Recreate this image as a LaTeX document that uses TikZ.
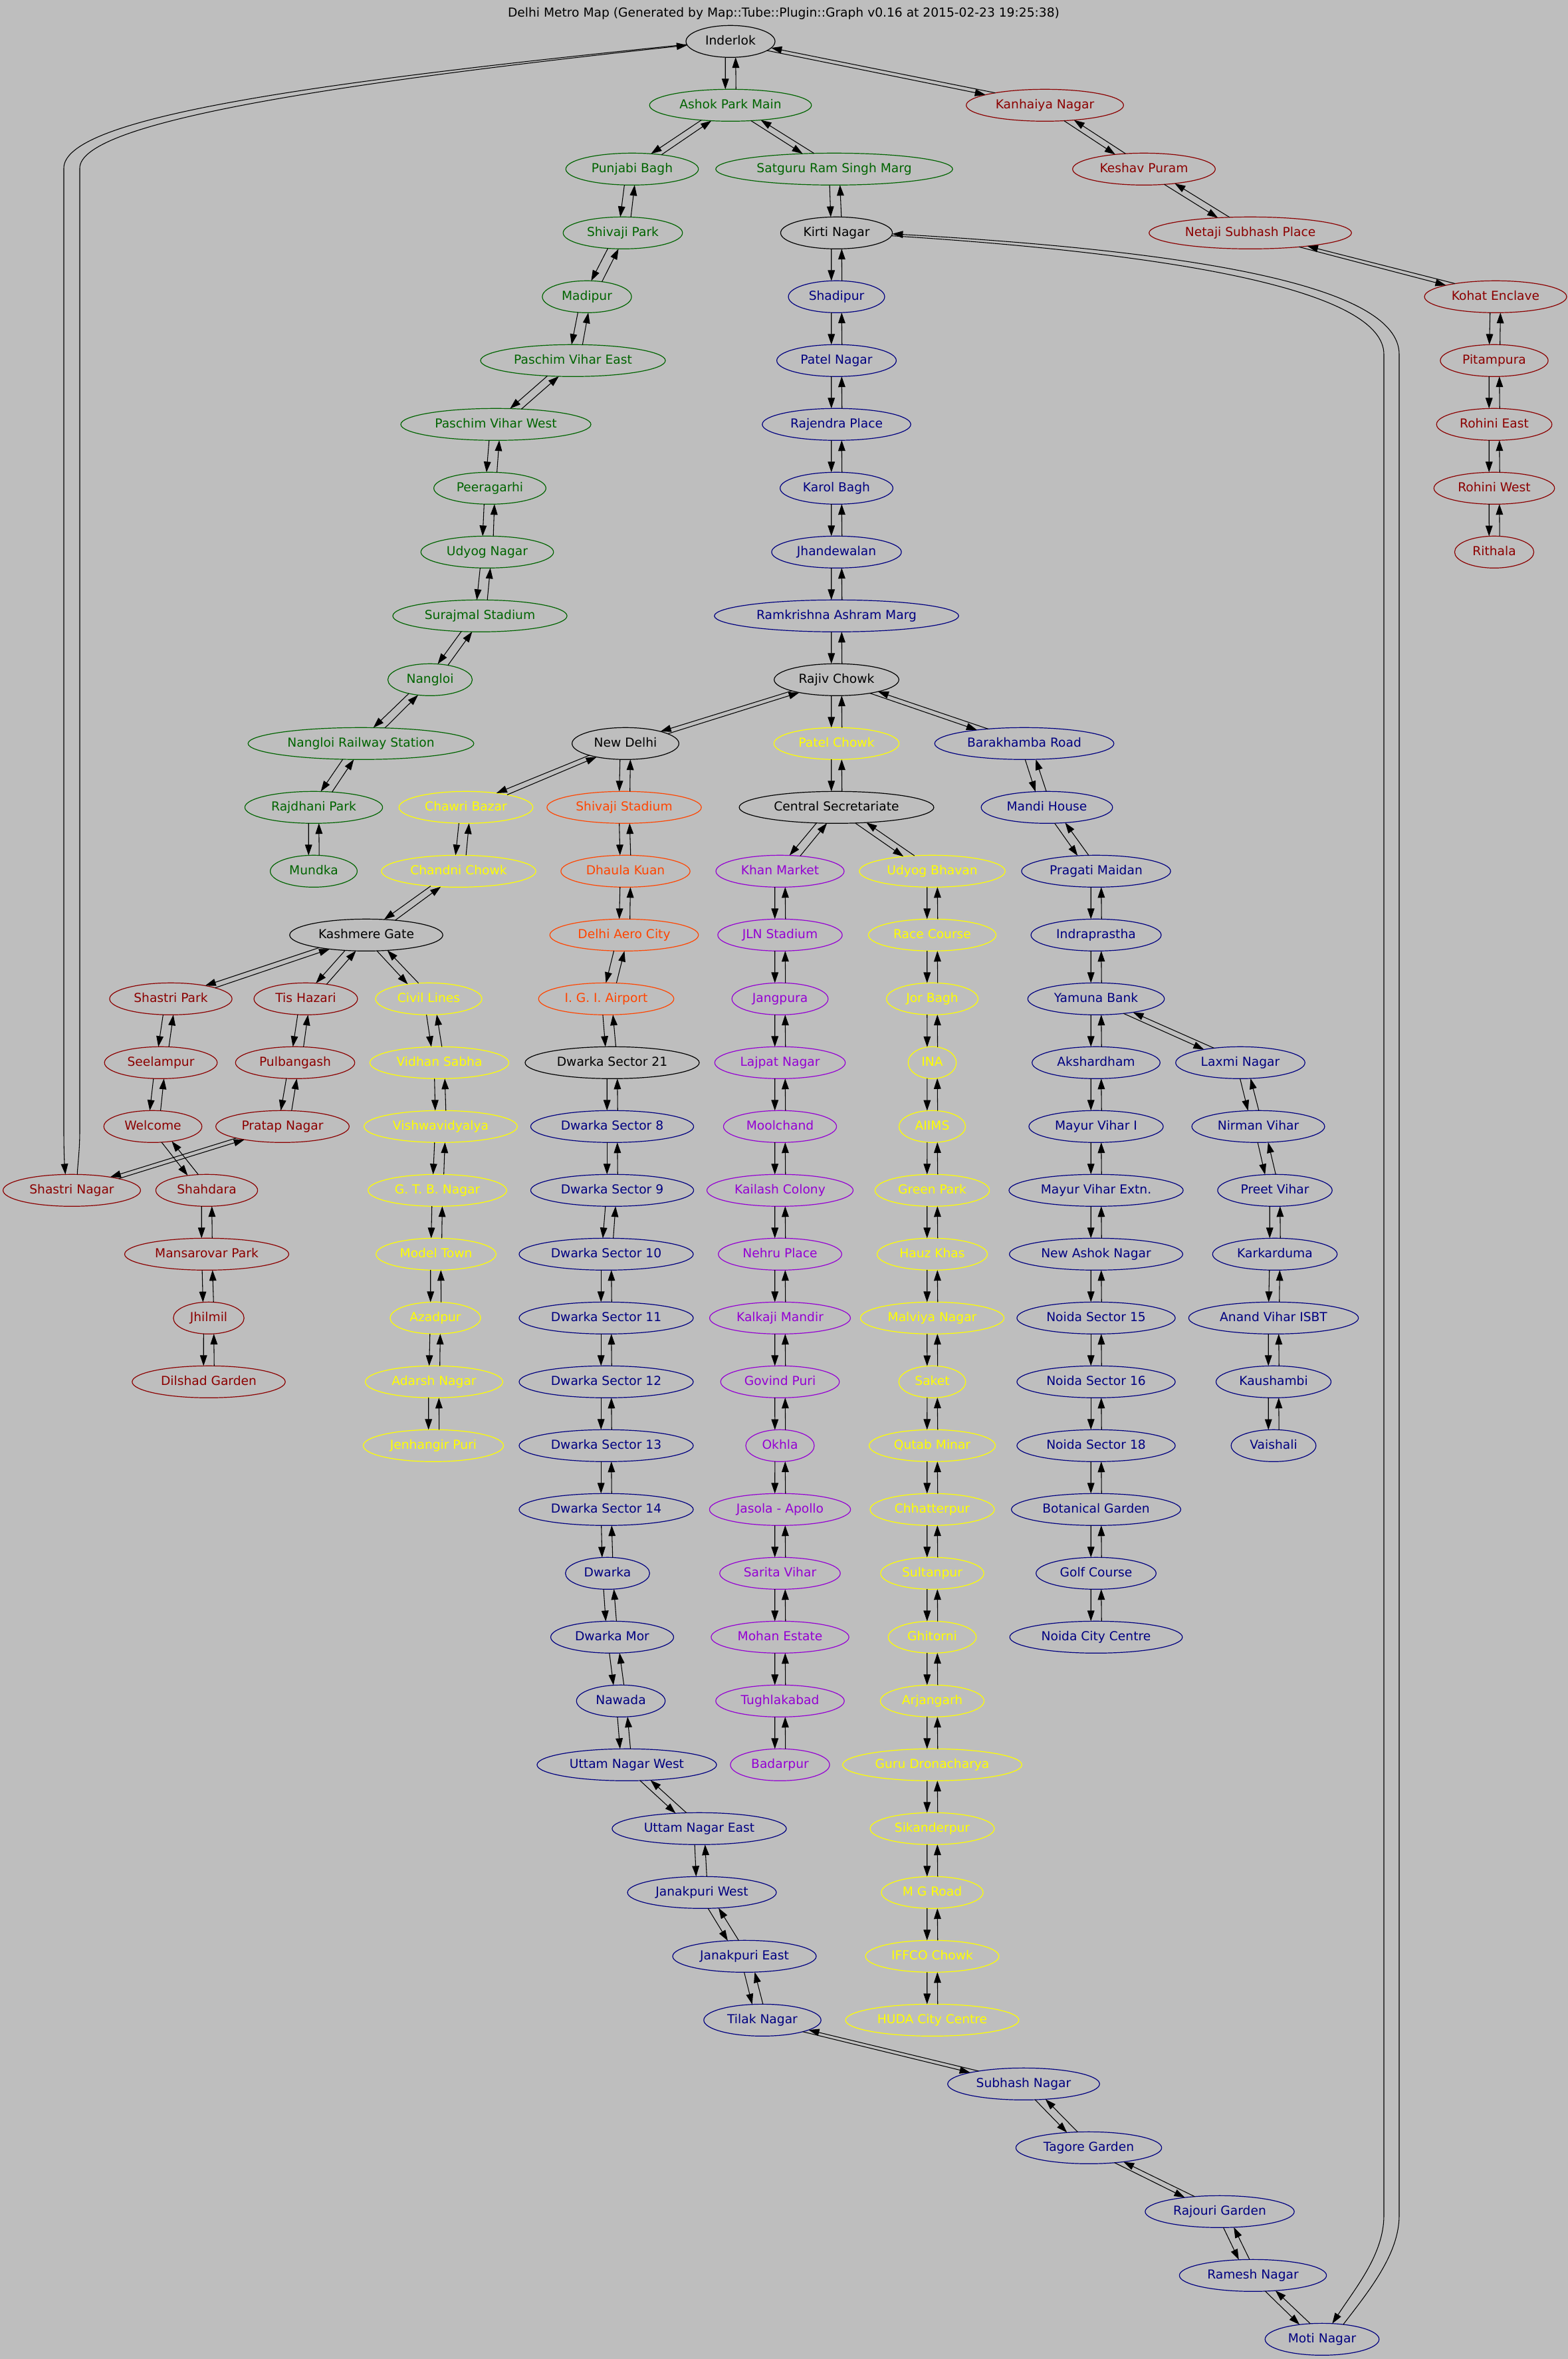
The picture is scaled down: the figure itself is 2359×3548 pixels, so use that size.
\documentclass[tikz,border=0pt]{standalone}
\usepackage{fontspec}
\setmainfont{DejaVu Sans}
\usetikzlibrary{arrows.meta,calc,positioning,shapes.geometric}

\definecolor{mapgray}{HTML}{BEBEBE}
\definecolor{mapred}{HTML}{8B0000}
\definecolor{mapgreen}{HTML}{006400}
\definecolor{mapblue}{HTML}{000080}
\definecolor{mapyellow}{HTML}{FFFF00}
\definecolor{maporange}{HTML}{FF4500}
\definecolor{mapviolet}{HTML}{9400D3}

\tikzset{
	station/.style={ellipse,draw,line width=0.9pt,inner xsep=7.1pt,inner ysep=0pt,outer sep=0pt,
		minimum height=36pt,text height=10.5pt,text depth=2.5pt,font=\fontsize{14pt}{17pt}\selectfont},
	redline/.style={station,draw=mapred,text=mapred},
	greenline/.style={station,draw=mapgreen,text=mapgreen},
	blueline/.style={station,draw=mapblue,text=mapblue},
	yellowline/.style={station,draw=mapyellow,text=mapyellow},
	orangeline/.style={station,draw=maporange,text=maporange},
	violetline/.style={station,draw=mapviolet,text=mapviolet},
	nudge/.style={xshift=#1*0.75pt},
	tip/.style={-{Triangle[length=12pt,width=8pt]},line width=0.8pt},
	track/.style={tip,to path={
		let \p1=(\tikztostart.center), \p2=(\tikztotarget.center),
		\n1={atan2(\y2-\y1,\x2-\x1)}, \n2={\n1+180}, \n7={1+5*abs(sin(\n1))},
		\p3=(\tikztostart.\n1), \p4=(\tikztotarget.\n2),
		\n3={atan2(\n7,veclen(\x3-\x1,\y3-\y1))}, \n4={atan2(\n7,veclen(\x4-\x2,\y4-\y2))},
		\n5={\n1-\n3}, \n6={\n2+\n4}
		in (\tikztostart.\n5) -- (\tikztotarget.\n6)}}
}

\begin{document}
\begin{tikzpicture}[x=0.75pt,y=-0.75pt,node distance=72pt,on grid]
	\path[use as bounding box,fill=mapgray] (0,0) rectangle (2359,3548);
	\node[font=\fontsize{14pt}{17pt}\selectfont] (maptitle) at (1179,20) {Delhi Metro Map (Generated by Map::Tube::Plugin::Graph v0.16 at 2015-02-23 19:25:38)};

	\node[station]    (inderlok)   at (1099,62.3)                   {Inderlok};
	% red line
	\node[redline]    (kanhaiya)   [below of=inderlok,nudge=473]    {Kanhaiya Nagar};
	\node[redline]    (keshav)     [below of=kanhaiya,nudge=149]    {Keshav Puram};
	\node[redline]    (netaji)     [below of=keshav,nudge=160]      {Netaji Subhash Place};
	\node[redline]    (kohat)      [below of=netaji,nudge=369]      {Kohat Enclave};
	\node[redline]    (pitampura)  [below of=kohat,nudge=-2]        {Pitampura};
	\node[redline]    (rohinie)    [below of=pitampura]             {Rohini East};
	\node[redline]    (rohiniw)    [below of=rohinie]               {Rohini West};
	\node[redline]    (rithala)    [below of=rohiniw]               {Rithala};
	% green line
	\node[greenline]  (ashok)      [below of=inderlok]              {Ashok Park Main};
	\node[greenline]  (punjabi)    [below of=ashok,nudge=-148]      {Punjabi Bagh};
	\node[greenline]  (satguru)    [below of=ashok,nudge=156]       {Satguru Ram Singh Marg};
	\node[greenline]  (shivajip)   [below of=punjabi,nudge=-14]     {Shivaji Park};
	\node[greenline]  (madipur)    [below of=shivajip,nudge=-54]    {Madipur};
	\node[greenline]  (pveast)     [below of=madipur,nudge=-21]     {Paschim Vihar East};
	\node[greenline]  (pvwest)     [below of=pveast,nudge=-116]     {Paschim Vihar West};
	\node[greenline]  (peeragarhi) [below of=pvwest,nudge=-9]       {Peeragarhi};
	\node[greenline]  (udyogn)     [below of=peeragarhi,nudge=-4]   {Udyog Nagar};
	\node[greenline]  (surajmal)   [below of=udyogn,nudge=-11]      {Surajmal Stadium};
	\node[greenline]  (nangloi)    [below of=surajmal,nudge=-75]    {Nangloi};
	\node[greenline]  (nangloirs)  [below of=nangloi,nudge=-104]    {Nangloi Railway Station};
	\node[greenline]  (rajdhani)   [below of=nangloirs,nudge=-71]   {Rajdhani Park};
	\node[greenline]  (mundka)     [below of=rajdhani]              {Mundka};
	% blue line, top part
	\node[station]    (kirti)      [below of=satguru,nudge=3.5]     {Kirti Nagar};
	\node[blueline]   (shadipur)   [below of=kirti]                 {Shadipur};
	\node[blueline]   (pateln)     [below of=shadipur]              {Patel Nagar};
	\node[blueline]   (rajendra)   [below of=pateln]                {Rajendra Place};
	\node[blueline]   (karol)      [below of=rajendra]              {Karol Bagh};
	\node[blueline]   (jhande)     [below of=karol]                 {Jhandewalan};
	\node[blueline]   (ramkrishna) [below of=jhande]                {Ramkrishna Ashram Marg};
	\node[station]    (rajiv)      [below of=ramkrishna]            {Rajiv Chowk};
	\node[station]    (newdelhi)   [below of=rajiv,nudge=-317.5]    {New Delhi};
	\node[yellowline] (patelc)     [below of=rajiv]                 {Patel Chowk};
	\node[blueline]   (barakhamba) [below of=rajiv,nudge=282.5]     {Barakhamba Road};
	% yellow line, north
	\node[yellowline] (chawri)     [below of=newdelhi,nudge=-240]   {Chawri Bazar};
	\node[yellowline] (chandni)    [below of=chawri,nudge=-11]      {Chandni Chowk};
	\node[station]    (kashmere)   [below of=chandni,nudge=-139]    {Kashmere Gate};
	\node[redline]    (shastrip)   [below of=kashmere,nudge=-294]   {Shastri Park};
	\node[redline]    (tishazari)  [below of=kashmere,nudge=-91]    {Tis Hazari};
	\node[yellowline] (civil)      [below of=kashmere,nudge=94]     {Civil Lines};
	\node[redline]    (seelampur)  [below of=shastrip,nudge=-15]    {Seelampur};
	\node[redline]    (welcome)    [below of=seelampur,nudge=-12]   {Welcome};
	\node[redline]    (shahdara)   [below of=welcome,nudge=81]      {Shahdara};
	\node[redline]    (mansarovar) [below of=shahdara]              {Mansarovar Park};
	\node[redline]    (jhilmil)    [below of=mansarovar,nudge=3]    {Jhilmil};
	\node[redline]    (dilshad)    [below of=jhilmil]               {Dilshad Garden};
	\node[redline]    (pulbangash) [below of=tishazari,nudge=-16]   {Pulbangash};
	\node[redline]    (pratap)     [below of=pulbangash,nudge=-19]  {Pratap Nagar};
	\node[redline]    (shastrin)   [below of=pratap,nudge=-317]     {Shastri Nagar};
	\node[yellowline] (vidhan)     [below of=civil,nudge=16]        {Vidhan Sabha};
	\node[yellowline] (vishwa)     [below of=vidhan,nudge=2]        {Vishwavidyalya};
	\node[yellowline] (gtb)        [below of=vishwa,nudge=-5]       {G. T. B. Nagar};
	\node[yellowline] (modelt)     [below of=gtb,nudge=-2]          {Model Town};
	\node[yellowline] (azadpur)    [below of=modelt,nudge=-1]       {Azadpur};
	\node[yellowline] (adarsh)     [below of=azadpur,nudge=-2]      {Adarsh Nagar};
	\node[yellowline] (jenhangir)  [below of=adarsh,nudge=-1]       {Jenhangir Puri};
	% orange line and blue line to dwarka
	\node[orangeline] (shivajis)   [below of=newdelhi,nudge=-2]     {Shivaji Stadium};
	\node[orangeline] (dhaula)     [below of=shivajis,nudge=2]      {Dhaula Kuan};
	\node[orangeline] (aero)       [below of=dhaula,nudge=-2]       {Delhi Aero City};
	\node[orangeline] (igi)        [below of=aero,nudge=-27]        {I. G. I. Airport};
	\node[station]    (sec21)      [below of=igi,nudge=9]           {Dwarka Sector 21};
	\node[blueline]   (sec8)       [below of=sec21]                 {Dwarka Sector 8};
	\node[blueline]   (sec9)       [below of=sec8]                  {Dwarka Sector 9};
	\node[blueline]   (sec10)      [below of=sec9,nudge=-9]         {Dwarka Sector 10};
	\node[blueline]   (sec11)      [below of=sec10]                 {Dwarka Sector 11};
	\node[blueline]   (sec12)      [below of=sec11]                 {Dwarka Sector 12};
	\node[blueline]   (sec13)      [below of=sec12]                 {Dwarka Sector 13};
	\node[blueline]   (sec14)      [below of=sec13]                 {Dwarka Sector 14};
	\node[blueline]   (dwarka)     [below of=sec14,nudge=2]         {Dwarka};
	\node[blueline]   (dwarkamor)  [below of=dwarka,nudge=7]        {Dwarka Mor};
	\node[blueline]   (nawada)     [below of=dwarkamor,nudge=13]    {Nawada};
	\node[blueline]   (uttamw)     [below of=nawada,nudge=9]        {Uttam Nagar West};
	\node[blueline]   (uttame)     [below of=uttamw,nudge=109]      {Uttam Nagar East};
	\node[blueline]   (janakw)     [below of=uttame,nudge=4]        {Janakpuri West};
	\node[blueline]   (janake)     [below of=janakw,nudge=64]       {Janakpuri East};
	\node[blueline]   (tilak)      [below of=janake,nudge=27]       {Tilak Nagar};
	\node[blueline]   (subhash)    [below of=tilak,nudge=393]       {Subhash Nagar};
	\node[blueline]   (tagore)     [below of=subhash,nudge=98]      {Tagore Garden};
	\node[blueline]   (rajouri)    [below of=tagore,nudge=197]      {Rajouri Garden};
	\node[blueline]   (ramesh)     [below of=rajouri,nudge=50]      {Ramesh Nagar};
	\node[blueline]   (moti)       [below of=ramesh,nudge=104]      {Moti Nagar};
	% violet line
	\node[station]    (central)    [below of=patelc]                {Central Secretariate};
	\node[violetline] (khan)       [below of=central,nudge=-85]     {Khan Market};
	\node[violetline] (jln)        [below of=khan]                  {JLN Stadium};
	\node[violetline] (jangpura)   [below of=jln]                   {Jangpura};
	\node[violetline] (lajpat)     [below of=jangpura]              {Lajpat Nagar};
	\node[violetline] (moolchand)  [below of=lajpat]                {Moolchand};
	\node[violetline] (kailash)    [below of=moolchand]             {Kailash Colony};
	\node[violetline] (nehru)      [below of=kailash]               {Nehru Place};
	\node[violetline] (kalkaji)    [below of=nehru]                 {Kalkaji Mandir};
	\node[violetline] (govind)     [below of=kalkaji]               {Govind Puri};
	\node[violetline] (okhla)      [below of=govind]                {Okhla};
	\node[violetline] (jasola)     [below of=okhla]                 {Jasola - Apollo};
	\node[violetline] (sarita)     [below of=jasola]                {Sarita Vihar};
	\node[violetline] (mohan)      [below of=sarita]                {Mohan Estate};
	\node[violetline] (tughlak)    [below of=mohan]                 {Tughlakabad};
	\node[violetline] (badarpur)   [below of=tughlak]               {Badarpur};
	% yellow line, south
	\node[yellowline] (udyogb)     [below of=central,nudge=144]     {Udyog Bhavan};
	\node[yellowline] (race)       [below of=udyogb]                {Race Course};
	\node[yellowline] (jor)        [below of=race]                  {Jor Bagh};
	\node[yellowline] (ina)        [below of=jor]                   {INA};
	\node[yellowline] (aiims)      [below of=ina]                   {AIIMS};
	\node[yellowline] (greenp)     [below of=aiims]                 {Green Park};
	\node[yellowline] (hauz)       [below of=greenp]                {Hauz Khas};
	\node[yellowline] (malviya)    [below of=hauz]                  {Malviya Nagar};
	\node[yellowline] (saket)      [below of=malviya]               {Saket};
	\node[yellowline] (qutab)      [below of=saket]                 {Qutab Minar};
	\node[yellowline] (chhatter)   [below of=qutab]                 {Chhatterpur};
	\node[yellowline] (sultanpur)  [below of=chhatter]              {Sultanpur};
	\node[yellowline] (ghitorni)   [below of=sultanpur]             {Ghitorni};
	\node[yellowline] (arjangarh)  [below of=ghitorni]              {Arjangarh};
	\node[yellowline] (guru)       [below of=arjangarh]             {Guru Dronacharya};
	\node[yellowline] (sikander)   [below of=guru]                  {Sikanderpur};
	\node[yellowline] (mgroad)     [below of=sikander]              {M G Road};
	\node[yellowline] (iffco)      [below of=mgroad]                {IFFCO Chowk};
	\node[yellowline] (huda)       [below of=iffco]                 {HUDA City Centre};
	% blue line, east
	\node[blueline]   (mandi)      [below of=barakhamba,nudge=34]   {Mandi House};
	\node[blueline]   (pragati)    [below of=mandi,nudge=74]        {Pragati Maidan};
	\node[blueline]   (indra)      [below of=pragati]               {Indraprastha};
	\node[blueline]   (yamuna)     [below of=indra]                 {Yamuna Bank};
	\node[blueline]   (akshar)     [below of=yamuna]                {Akshardham};
	\node[blueline]   (mayur)      [below of=akshar]                {Mayur Vihar I};
	\node[blueline]   (mayurx)     [below of=mayur]                 {Mayur Vihar Extn.};
	\node[blueline]   (newashok)   [below of=mayurx]                {New Ashok Nagar};
	\node[blueline]   (noida15)    [below of=newashok]              {Noida Sector 15};
	\node[blueline]   (noida16)    [below of=noida15]               {Noida Sector 16};
	\node[blueline]   (noida18)    [below of=noida16]               {Noida Sector 18};
	\node[blueline]   (botanical)  [below of=noida18]               {Botanical Garden};
	\node[blueline]   (golf)       [below of=botanical]             {Golf Course};
	\node[blueline]   (noidacc)    [below of=golf]                  {Noida City Centre};
	\node[blueline]   (laxmi)      [below of=yamuna,nudge=217]      {Laxmi Nagar};
	\node[blueline]   (nirman)     [below of=laxmi,nudge=27]        {Nirman Vihar};
	\node[blueline]   (preet)      [below of=nirman,nudge=25]       {Preet Vihar};
	\node[blueline]   (karkar)     [below of=preet]                 {Karkarduma};
	\node[blueline]   (anand)      [below of=karkar,nudge=-2]       {Anand Vihar ISBT};
	\node[blueline]   (kaushambi)  [below of=anand]                 {Kaushambi};
	\node[blueline]   (vaishali)   [below of=kaushambi]             {Vaishali};

	\foreach \src/\dst in {inderlok/ashok,inderlok/kanhaiya,kanhaiya/keshav,keshav/netaji,netaji/kohat,
		kohat/pitampura,pitampura/rohinie,rohinie/rohiniw,rohiniw/rithala,
		ashok/punjabi,ashok/satguru,punjabi/shivajip,shivajip/madipur,madipur/pveast,pveast/pvwest,
		pvwest/peeragarhi,peeragarhi/udyogn,udyogn/surajmal,surajmal/nangloi,nangloi/nangloirs,
		nangloirs/rajdhani,rajdhani/mundka,
		satguru/kirti,kirti/shadipur,shadipur/pateln,pateln/rajendra,rajendra/karol,karol/jhande,
		jhande/ramkrishna,ramkrishna/rajiv,rajiv/newdelhi,rajiv/patelc,rajiv/barakhamba,
		newdelhi/chawri,chawri/chandni,chandni/kashmere,kashmere/shastrip,kashmere/tishazari,kashmere/civil,
		shastrip/seelampur,seelampur/welcome,welcome/shahdara,shahdara/mansarovar,mansarovar/jhilmil,jhilmil/dilshad,
		tishazari/pulbangash,pulbangash/pratap,pratap/shastrin,
		civil/vidhan,vidhan/vishwa,vishwa/gtb,gtb/modelt,modelt/azadpur,azadpur/adarsh,adarsh/jenhangir,
		newdelhi/shivajis,shivajis/dhaula,dhaula/aero,aero/igi,igi/sec21,sec21/sec8,sec8/sec9,sec9/sec10,
		sec10/sec11,sec11/sec12,sec12/sec13,sec13/sec14,sec14/dwarka,dwarka/dwarkamor,dwarkamor/nawada,
		nawada/uttamw,uttamw/uttame,uttame/janakw,janakw/janake,janake/tilak,tilak/subhash,subhash/tagore,
		tagore/rajouri,rajouri/ramesh,ramesh/moti,
		patelc/central,central/khan,khan/jln,jln/jangpura,jangpura/lajpat,lajpat/moolchand,moolchand/kailash,
		kailash/nehru,nehru/kalkaji,kalkaji/govind,govind/okhla,okhla/jasola,jasola/sarita,sarita/mohan,
		mohan/tughlak,tughlak/badarpur,
		central/udyogb,udyogb/race,race/jor,jor/ina,ina/aiims,aiims/greenp,greenp/hauz,hauz/malviya,malviya/saket,
		saket/qutab,qutab/chhatter,chhatter/sultanpur,sultanpur/ghitorni,ghitorni/arjangarh,arjangarh/guru,
		guru/sikander,sikander/mgroad,mgroad/iffco,iffco/huda,
		barakhamba/mandi,mandi/pragati,pragati/indra,indra/yamuna,yamuna/akshar,akshar/mayur,mayur/mayurx,
		mayurx/newashok,newashok/noida15,noida15/noida16,noida16/noida18,noida18/botanical,botanical/golf,golf/noidacc,
		yamuna/laxmi,laxmi/nirman,nirman/preet,preet/karkar,karkar/anand,anand/kaushambi,kaushambi/vaishali}
		{\path [track] (\src) edge (\dst) (\dst) edge (\src);}

	% the two long ways round
	\draw [tip] (inderlok.-176) .. controls (430,128) and (96,180) .. (96,253) -- (96,1700)
		.. controls (96,1730) and (97,1750) .. (shastrin.112);
	\draw [tip] (shastrin.71) .. controls (117,1750) and (120,1730) .. (120,1700) -- (120,253)
		.. controls (120,190) and (430,133) .. (inderlok.-175);
	\draw [tip] (kirti.-3) .. controls (1790,383) and (2082,440) .. (2082,533) -- (2082,3332)
		.. controls (2082,3390) and (2040,3440) .. (moti.57);
	\draw [tip] (moti.35) .. controls (2060,3445) and (2105,3390) .. (2105,3332) -- (2105,533)
		.. controls (2105,430) and (1800,378) .. (kirti.-1);
\end{tikzpicture}
\end{document}
